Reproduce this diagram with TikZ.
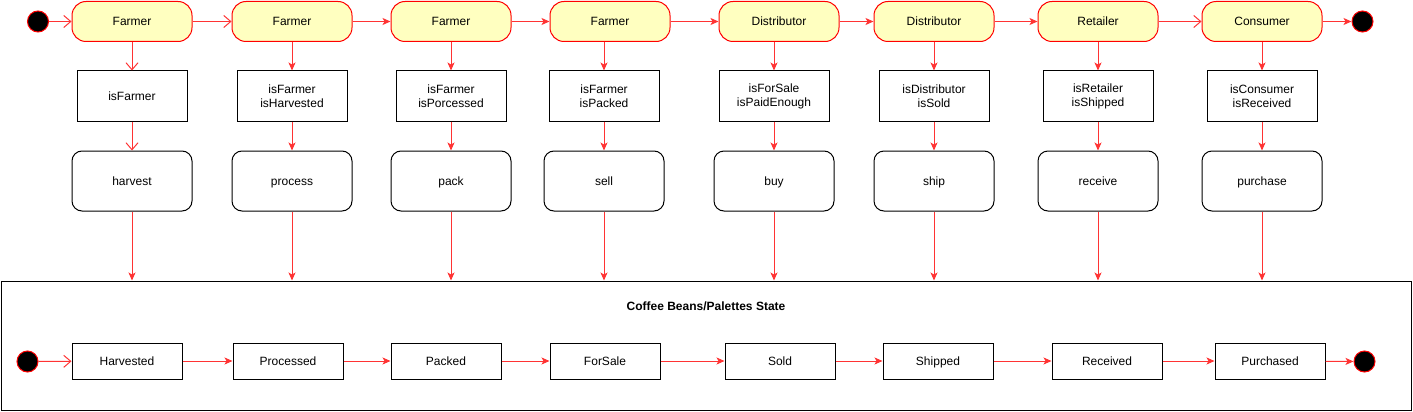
\documentclass[tikz,border=0pt]{standalone}
\usepackage{fontspec}
\setmainfont{Liberation Sans}
\usetikzlibrary{arrows.meta}
\definecolor{lineRed}{HTML}{FF3333}
\definecolor{laneYellow}{HTML}{FFFFC0}

\begin{document}
\begin{tikzpicture}[x=1pt, y=-1pt, line width=1pt,
		font=\fontsize{12}{14}\selectfont,
		label text/.style={text height=9pt, text depth=1pt},
		role/.style={draw=red, fill=laneYellow, rounded corners=14pt, minimum width=120pt, minimum height=40pt, label text},
		guard/.style={draw, align=center, minimum width=110pt, minimum height=50pt},
		action/.style={draw, rounded corners=10pt, minimum width=120pt, minimum height=60pt, label text},
		state/.style={draw, minimum width=110pt, minimum height=36pt, label text},
		dot/.style={circle, draw=red, fill=black, minimum size=21pt, inner sep=0pt},
		flow/.style={draw=lineRed, -{Stealth[length=8pt, width=7pt, inset=2pt]}},
		openflow/.style={draw=lineRed, -{Straight Barb[length=7pt, width=12pt]}}
		]
	\useasboundingbox (0,0) rectangle (1413,412);

	% swimlane roles, guards, actions and bean states
	\foreach \i/\rx/\gx/\sx/\who/\cond/\act/\st in {
		1/132/132/127/Farmer/isFarmer/harvest/Harvested,
		2/292/292/288/Farmer/{isFarmer\\isHarvested}/process/Processed,
		3/451/451/446/Farmer/{isFarmer\\isPorcessed}/pack/Packed,
		4/610/604/605/Farmer/{isFarmer\\isPacked}/sell/ForSale,
		5/779/774/780/Distributor/{isForSale\\isPaidEnough}/buy/Sold,
		6/934/934/938/Distributor/{isDistributor\\isSold}/ship/Shipped,
		7/1098/1098/1107/Retailer/{isRetailer\\isShipped\vphantom{g}}/receive/Received,
		8/1262/1262/1270/Consumer/{isConsumer\\isReceived}/purchase/Purchased}
	{
		\node [role] (r\i) at (\rx,21.5) {\who};
		\node [guard] (g\i) at (\gx,96) {\cond};
		\node [action] (a\i) at (\gx,181) {\act};
		\node [state] (s\i) at (\sx,361) {\st};
	}

	\node [dot] (start) at (38,21.5) {};
	\node [dot] (stop) at (1362.5,21.5) {};

	% state frame
	\node [draw, inner sep=0pt, minimum width=1410pt, minimum height=129pt] (frame) at (706,345.5) {};
	\node [font=\fontsize{12}{14}\selectfont\bfseries] (title) at (706,306) {Coffee Beans/Palettes State};
	\node [dot] (bstart) at (27.5,361.5) {};
	\node [dot] (bstop) at (1364.5,361.5) {};

	% top chain
	\draw [openflow] (start) -- (r1);
	\draw [openflow] (r1) -- (r2);
	\foreach \i/\j in {2/3,3/4,4/5,5/6,6/7}
		\draw [flow] (r\i) -- (r\j);
	\draw [openflow] (r7) -- (r8);
	\draw [flow] (r8) -- (stop);

	% down each lane
	\draw [openflow] (g1 |- r1.south) -- (g1);
	\draw [openflow] (g1) -- (a1);
	\foreach \i in {2,...,8} {
		\draw [flow] (g\i |- r\i.south) -- (g\i);
		\draw [flow] (g\i) -- (a\i);
	}
	\foreach \i in {1,...,8}
		\draw [flow] (a\i) -- (a\i |- frame.north);

	% bottom chain
	\draw [openflow] (bstart) -- (s1);
	\foreach \i/\j in {1/2,2/3,3/4,4/5,5/6,6/7,7/8}
		\draw [flow] (s\i) -- (s\j);
	\draw [flow] (s8) -- (bstop);
\end{tikzpicture}
\end{document}
